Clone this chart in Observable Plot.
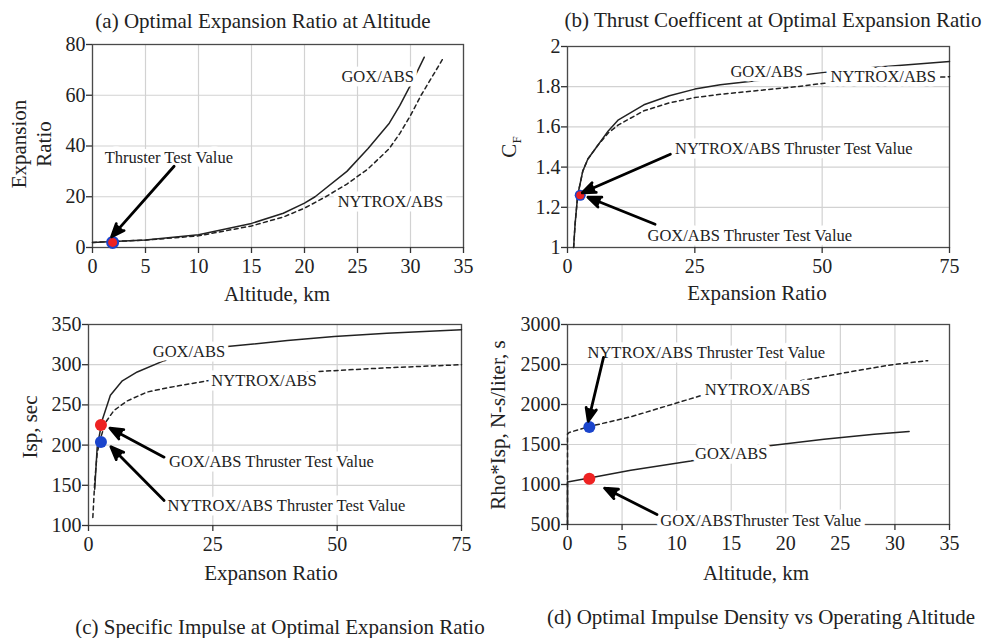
<!DOCTYPE html>
<html><head><meta charset="utf-8">
<script src="https://cdn.jsdelivr.net/npm/d3@7"></script>
<script src="https://cdn.jsdelivr.net/npm/@observablehq/plot@0.6"></script>
<style>
body{margin:0;background:#fff;}
#wrap{position:relative;width:983px;height:638px;overflow:hidden;background:#fff;font-family:"Liberation Serif","Times New Roman",serif;color:#222;}
.panel{position:absolute;}
.lbl{position:absolute;white-space:nowrap;font-size:21px;line-height:1;transform:translate(-50%,-50%);}
.rot{transform:translate(-50%,-50%) rotate(-90deg);text-align:center;}
</style></head><body><div id="wrap"></div><script>
// ---------- Panel (a): Optimal Expansion Ratio at Altitude ----------
const altA_gox = [0, 2, 5, 10, 15, 18, 20, 21, 24, 26, 28, 29, 30, 30.6, 31.3];
const erA_gox  = [2, 2.4, 3, 5, 9.5, 13.5, 17.5, 20, 30, 39, 49, 56, 64, 69, 75];
const altA_nyt = [0, 2, 5, 10, 15, 18, 20, 22, 24, 26, 28, 29, 30, 31, 32, 33];
const erA_nyt  = [2, 2.4, 2.9, 4.6, 8.5, 12, 15.5, 20, 25, 31, 39, 45, 52, 60, 67, 74];
const testA = [{x: 1.9, y: 2}];
const arrowA = [{x1: 7.7, y1: 32, x2: 1.8, y2: 4.2}];
const textA = [
  {x: 7.2, y: 35.3, t: "Thruster Test Value", a: "middle"},
  {x: 26.9, y: 67.4, t: "GOX/ABS", a: "middle"},
  {x: 28.1, y: 18.1, t: "NYTROX/ABS", a: "middle"}
];
const xTicksA = [0, 5, 10, 15, 20, 25, 30, 35];
const yTicksA = [0, 20, 40, 60, 80];

// ---------- Panel (b): Thrust Coefficient ----------
const erB_gox = [1.2, 1.5, 2, 3, 4, 6, 8, 10, 15, 20, 25, 30, 37, 45, 50, 60, 75];
const cfB_gox = [1.0, 1.12, 1.26, 1.38, 1.44, 1.51, 1.58, 1.635, 1.71, 1.755, 1.788, 1.81, 1.83, 1.855, 1.87, 1.895, 1.925];
const erB_nyt = [1.2, 1.5, 2, 3, 4, 6, 8, 10, 15, 20, 25, 30, 37, 45, 50, 60, 75];
const cfB_nyt = [1.0, 1.12, 1.26, 1.38, 1.44, 1.51, 1.57, 1.61, 1.68, 1.72, 1.746, 1.762, 1.78, 1.8, 1.816, 1.83, 1.85];
const testB_gox = [{x: 2.5, y: 1.26}];
const testB_nyt = [{x: 2.5, y: 1.26}];
const arrowB = [
  {x1: 20.2, y1: 1.464, x2: 2.9, y2: 1.272},
  {x1: 17.2, y1: 1.116, x2: 4.0, y2: 1.25}
];
const textB = [
  {x: 21.1, y: 1.489, t: "NYTROX/ABS Thruster Test Value", a: "start"},
  {x: 15.7, y: 1.058, t: "GOX/ABS Thruster Test Value", a: "start"},
  {x: 39.1, y: 1.876, t: "GOX/ABS", a: "middle"},
  {x: 62, y: 1.85, t: "NYTROX/ABS", a: "middle"}
];
const xTicksB = [0, 25, 50, 75];
const yTicksB = [1, 1.2, 1.4, 1.6, 1.8, 2];

// ---------- Panel (c): Specific Impulse ----------
const erC_gox  = [1.25, 1.74, 2.75, 4.4, 6.8, 9.8, 15.2, 20, 27.9, 40, 49.4, 60, 75];
const ispC_gox = [145, 197, 231, 262, 280, 291, 305, 313, 322.6, 330, 335, 339, 343.5];
const erC_nyt  = [0.87, 1.27, 1.74, 2.5, 3.4, 5.1, 7.8, 11.8, 16.5, 23.9, 30, 44.7, 59.4, 75];
const ispC_nyt = [110, 156, 190, 210, 228, 243, 255, 266, 272, 280, 284, 291, 296, 300];
const testC_gox = [{x: 2.5, y: 225}];
const testC_nyt = [{x: 2.5, y: 204}];
const arrowC = [
  {x1: 15.2, y1: 185, x2: 4.3, y2: 221},
  {x1: 15.2, y1: 131, x2: 4.5, y2: 198}
];
const textC = [
  {x: 16.2, y: 179, t: "GOX/ABS Thruster Test Value", a: "start"},
  {x: 15.9, y: 125, t: "NYTROX/ABS Thruster Test Value", a: "start"},
  {x: 20.2, y: 315.6, t: "GOX/ABS", a: "middle"},
  {x: 35.3, y: 279.6, t: "NYTROX/ABS", a: "middle"}
];
const xTicksC = [0, 25, 50, 75];
const yTicksC = [100, 150, 200, 250, 300, 350];

// ---------- Panel (d): Impulse Density ----------
const altD_gox = [0, 0, 2, 5.8, 11.3, 15, 18.3, 23.5, 28.1, 31.3];
const rhoD_gox = [500, 1030, 1080, 1177, 1294, 1386, 1482, 1566, 1629, 1662];
const altD_nyt = [0, 0, 0.15, 2, 5.8, 12.2, 17.4, 21.4, 26.5, 29.6, 33];
const rhoD_nyt = [500, 1630, 1650, 1725, 1846, 2110, 2200, 2298, 2423, 2494, 2548];
const testD_gox = [{x: 2.0, y: 1073}];
const testD_nyt = [{x: 2.0, y: 1720}];
const arrowD = [
  {x1: 3.3, y1: 2590, x2: 1.9, y2: 1790},
  {x1: 8.2, y1: 625, x2: 3.4, y2: 955}
];
const textD = [
  {x: 1.83, y: 2653, t: "NYTROX/ABS Thruster Test Value", a: "start"},
  {x: 8.5, y: 550, t: "GOX/ABSThruster Test Value", a: "start"},
  {x: 17.4, y: 2185, t: "NYTROX/ABS", a: "middle"},
  {x: 15.0, y: 1386, t: "GOX/ABS", a: "middle"}
];
const xTicksD = [0, 5, 10, 15, 20, 25, 30, 35];
const yTicksD = [500, 1000, 1500, 2000, 2500, 3000];

// ---------- Text ----------
const titles = [
  {t: "(a) Optimal Expansion Ratio at Altitude", x: 263, y: 21},
  {t: "(b) Thrust Coefficent at Optimal Expansion Ratio", x: 773, y: 20},
  {t: "(c) Specific Impulse at Optimal Expansion Ratio", x: 280, y: 627},
  {t: "(d) Optimal Impulse Density vs Operating Altitude", x: 761, y: 617}
];
const xLabels = [
  {t: "Altitude, km", x: 277, y: 294},
  {t: "Expansion Ratio", x: 757, y: 293},
  {t: "Expanson Ratio", x: 271, y: 573},
  {t: "Altitude, km", x: 756, y: 573}
];
const yLabels = [
  {h: "Expansion<br>Ratio", x: 32, y: 144},
  {h: "C<sub style='font-size:13px'>F</sub>", x: 513, y: 147},
  {h: "Isp, sec", x: 30, y: 427},
  {h: "Rho*Isp, N-s/liter, s", x: 498, y: 425}
];

const zipXY = (xs, ys) => xs.map((x, i) => ({x, y: ys[i]}));
const ink = "#222";

function panel({left, top, width, height, margins, xDomain, yDomain, xTicks, yTicks, yFormat, gox, nyt, dots, arrows, texts}) {
  const textStyle = {x: "x", y: "y", text: "t", fontSize: 16.5, fill: ink, stroke: "white", strokeWidth: 9, strokeLinejoin: "round"};
  const chart = Plot.plot({
    width, height, ...margins,
    x: {domain: xDomain},
    y: {domain: yDomain},
    style: {fontFamily: '"Liberation Serif","Times New Roman",serif', fontSize: "20px", color: ink, background: "transparent", overflow: "visible"},
    marks: [
      Plot.gridX(xTicks, {stroke: "#d2d2d2", strokeOpacity: 1, strokeWidth: 1.2}),
      Plot.gridY(yTicks, {stroke: "#d2d2d2", strokeOpacity: 1, strokeWidth: 1.2}),
      Plot.frame({stroke: "#4a4a4a", strokeWidth: 1.3}),
      Plot.axisX(xTicks, {tickSize: 6, tickPadding: 5, label: null, stroke: "#333", strokeWidth: 1.3}),
      Plot.axisY(yTicks, {tickSize: 6, tickPadding: 1, label: null, stroke: "#333", strokeWidth: 1.3, tickFormat: yFormat}),
      Plot.line(nyt, {x: "x", y: "y", stroke: ink, strokeWidth: 1.5, strokeDasharray: "4,3.5"}),
      Plot.line(gox, {x: "x", y: "y", stroke: ink, strokeWidth: 1.5}),
      ...dots,
      Plot.text(texts.filter(d => d.a === "middle"), {...textStyle, textAnchor: "middle"}),
      Plot.text(texts.filter(d => d.a === "start"), {...textStyle, textAnchor: "start"}),
      Plot.arrow(arrows, {x1: "x1", y1: "y1", x2: "x2", y2: "y2", stroke: "black", fill: "black", strokeWidth: 2.8, headLength: 7.5, headAngle: 44})
    ]
  });
  const d = document.createElement("div");
  d.className = "panel";
  d.style.left = left + "px"; d.style.top = top + "px";
  d.appendChild(chart);
  document.getElementById("wrap").appendChild(d);
}

const redFill = "#ee2222", blueFill = "#1a44cc";

panel({left: 0, top: 0, width: 490, height: 310,
  margins: {marginLeft: 92, marginRight: 27, marginTop: 44, marginBottom: 63},
  xDomain: [0, 35], yDomain: [0, 80], xTicks: xTicksA, yTicks: yTicksA, yFormat: d3.format("d"),
  gox: zipXY(altA_gox, erA_gox), nyt: zipXY(altA_nyt, erA_nyt),
  dots: [Plot.dot(testA, {x: "x", y: "y", r: 5.5, fill: redFill, stroke: blueFill, strokeWidth: 2})],
  arrows: arrowA, texts: textA});

panel({left: 490, top: 0, width: 493, height: 310,
  margins: {marginLeft: 77, marginRight: 34, marginTop: 46, marginBottom: 63},
  xDomain: [0, 75], yDomain: [1, 2], xTicks: xTicksB, yTicks: yTicksB, yFormat: d3.format(""),
  gox: zipXY(erB_gox, cfB_gox), nyt: zipXY(erB_nyt, cfB_nyt),
  dots: [Plot.dot(testB_nyt, {x: "x", y: "y", r: 5.5, fill: blueFill}),
         Plot.dot(testB_gox, {x: "x", y: "y", r: 4, fill: redFill})],
  arrows: arrowB, texts: textB});

panel({left: 0, top: 310, width: 490, height: 328,
  margins: {marginLeft: 88, marginRight: 29, marginTop: 14, marginBottom: 113},
  xDomain: [0, 75], yDomain: [100, 350], xTicks: xTicksC, yTicks: yTicksC, yFormat: d3.format("d"),
  gox: zipXY(erC_gox, ispC_gox), nyt: zipXY(erC_nyt, ispC_nyt),
  dots: [Plot.dot(testC_gox, {x: "x", y: "y", r: 6, fill: redFill}),
         Plot.dot(testC_nyt, {x: "x", y: "y", r: 6, fill: blueFill})],
  arrows: arrowC, texts: textC});

panel({left: 490, top: 310, width: 493, height: 328,
  margins: {marginLeft: 77, marginRight: 34, marginTop: 14, marginBottom: 114},
  xDomain: [0, 35], yDomain: [500, 3000], xTicks: xTicksD, yTicks: yTicksD, yFormat: d3.format("d"),
  gox: zipXY(altD_gox, rhoD_gox), nyt: zipXY(altD_nyt, rhoD_nyt),
  dots: [Plot.dot(testD_gox, {x: "x", y: "y", r: 6, fill: redFill}),
         Plot.dot(testD_nyt, {x: "x", y: "y", r: 6, fill: blueFill})],
  arrows: arrowD, texts: textD});

const wrap = document.getElementById("wrap");
function addLabel(html, x, y, rot, extra) {
  const el = document.createElement("div");
  el.className = "lbl" + (rot ? " rot" : "");
  el.innerHTML = html;
  el.style.left = x + "px"; el.style.top = y + "px";
  if (extra) Object.assign(el.style, extra);
  wrap.appendChild(el);
}
titles.forEach(d => addLabel(d.t, d.x, d.y, false));
xLabels.forEach(d => addLabel(d.t, d.x, d.y, false));
yLabels.forEach(d => addLabel(d.h, d.x, d.y, true, {lineHeight: "25px"}));
</script></body></html>
